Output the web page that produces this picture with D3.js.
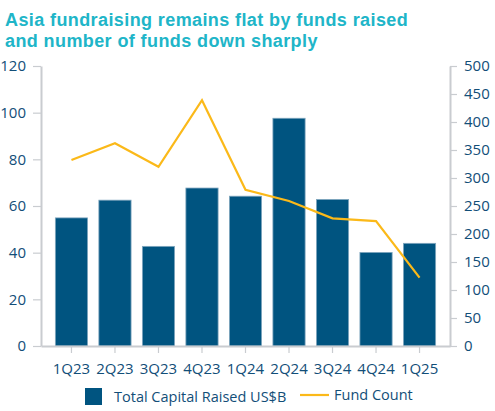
<!DOCTYPE html>
<html>
<head>
<meta charset="utf-8">
<script src="https://cdn.jsdelivr.net/npm/d3@7"></script>
<style>
  body { margin: 0; background: #fff; }
  svg { display: block; font-family: "Open Sans", sans-serif; }
</style>
</head>
<body>
<div id="chart-area"></div>
<script>
var quarters = ["1Q23", "2Q23", "3Q23", "4Q23", "1Q24", "2Q24", "3Q24", "4Q24", "1Q25"];
var capitalRaised = [54.9, 62.5, 42.7, 67.7, 64.2, 97.6, 62.8, 40.1, 44.0];
var fundCount = [332, 362, 320, 439, 279, 259, 228, 223, 122];
var leftTicks = [0, 20, 40, 60, 80, 100, 120];
var rightTicks = [0, 50, 100, 150, 200, 250, 300, 350, 400, 450, 500];
var titleLines = ["Asia fundraising remains flat by funds raised", "and number of funds down sharply"];

var W = 495, H = 411;
var margin = { top: 66, bottom: 65, left: 41, right: 45 };
var width  = W - margin.left - margin.right;
var height = H - margin.top  - margin.bottom;

var svg = d3.select("#chart-area")
    .append("svg")
        .attr("width", W)
        .attr("height", H);

// title, one text per line
svg.selectAll("text.title")
    .data(titleLines)
    .enter()
    .append("text")
        .attr("class", "title")
        .attr("x", 5)
        .attr("y", function(d, i) { return 26 + i * 21; })
        .attr("fill", "#20b5c8")
        .attr("font-family", "Liberation Sans, Arial, sans-serif")
        .attr("font-size", "18px")
        .attr("letter-spacing", "0.4px")
        .attr("font-weight", "bold")
        .text(function(d) { return d; });

var g = svg.append("g")
    .attr("transform", "translate(" + margin.left + ", " + margin.top + ")");

var x = d3.scaleBand()
    .domain(quarters)
    .range([0, width])
    .paddingInner(0.26)
    .paddingOuter(0.33);

var yLeft = d3.scaleLinear()
    .domain([0, 120])
    .range([height, 0]);

var yRight = d3.scaleLinear()
    .domain([0, 500])
    .range([height, 0]);

var axisColor = "#c9ccd0";
var textColor = "#124e78";

function styleAxis(sel) {
    sel.select(".domain").attr("stroke", axisColor).attr("stroke-width", 2);
    sel.selectAll(".tick line").attr("stroke", axisColor).attr("stroke-width", 1.2);
    sel.selectAll(".tick text")
        .attr("fill", textColor)
        .attr("font-size", "15px")
        .attr("font-family", "Open Sans, sans-serif");
}

// bars
g.selectAll("rect.bar")
    .data(capitalRaised)
    .enter()
    .append("rect")
        .attr("class", "bar")
        .attr("x", function(d, i) { return x(quarters[i]); })
        .attr("y", function(d) { return yLeft(d); })
        .attr("width", x.bandwidth())
        .attr("height", function(d) { return height - yLeft(d); })
        .attr("fill", "#005480")
        .attr("stroke", "#7fa6be")
        .attr("stroke-width", 0.8);

// axes
g.append("g")
    .attr("class", "y-axis-left")
    .call(d3.axisLeft(yLeft).tickValues(leftTicks).tickSize(8).tickPadding(7).tickSizeOuter(0))
    .call(styleAxis);

g.append("g")
    .attr("class", "y-axis-right")
    .attr("transform", "translate(" + width + ", 0)")
    .call(d3.axisRight(yRight).tickValues(rightTicks).tickSize(7).tickPadding(7).tickSizeOuter(0))
    .call(styleAxis);

g.append("g")
    .attr("class", "x-axis")
    .attr("transform", "translate(0, " + height + ")")
    .call(d3.axisBottom(x).tickSize(7).tickPadding(10).tickSizeOuter(0))
    .call(styleAxis);

// line
var line = d3.line()
    .x(function(d, i) { return x(quarters[i]) + x.bandwidth() / 2; })
    .y(function(d) { return yRight(d); });

g.append("path")
    .datum(fundCount)
    .attr("fill", "none")
    .attr("stroke", "#fbb919")
    .attr("stroke-width", 2.2)
    .attr("d", line);

// legend
var legend = svg.append("g");
legend.append("rect")
    .attr("x", 85).attr("y", 388)
    .attr("width", 17).attr("height", 17)
    .attr("fill", "#005480");
legend.append("text")
    .attr("x", 114).attr("y", 402)
    .attr("fill", textColor)
    .attr("font-size", "14.5px")
    .text("Total Capital Raised US$B");
legend.append("line")
    .attr("x1", 300).attr("x2", 329)
    .attr("y1", 395).attr("y2", 395)
    .attr("stroke", "#fbb919")
    .attr("stroke-width", 2.2);
legend.append("text")
    .attr("x", 334).attr("y", 400)
    .attr("fill", textColor)
    .attr("font-size", "14.5px")
    .text("Fund Count");
</script>
</body>
</html>
